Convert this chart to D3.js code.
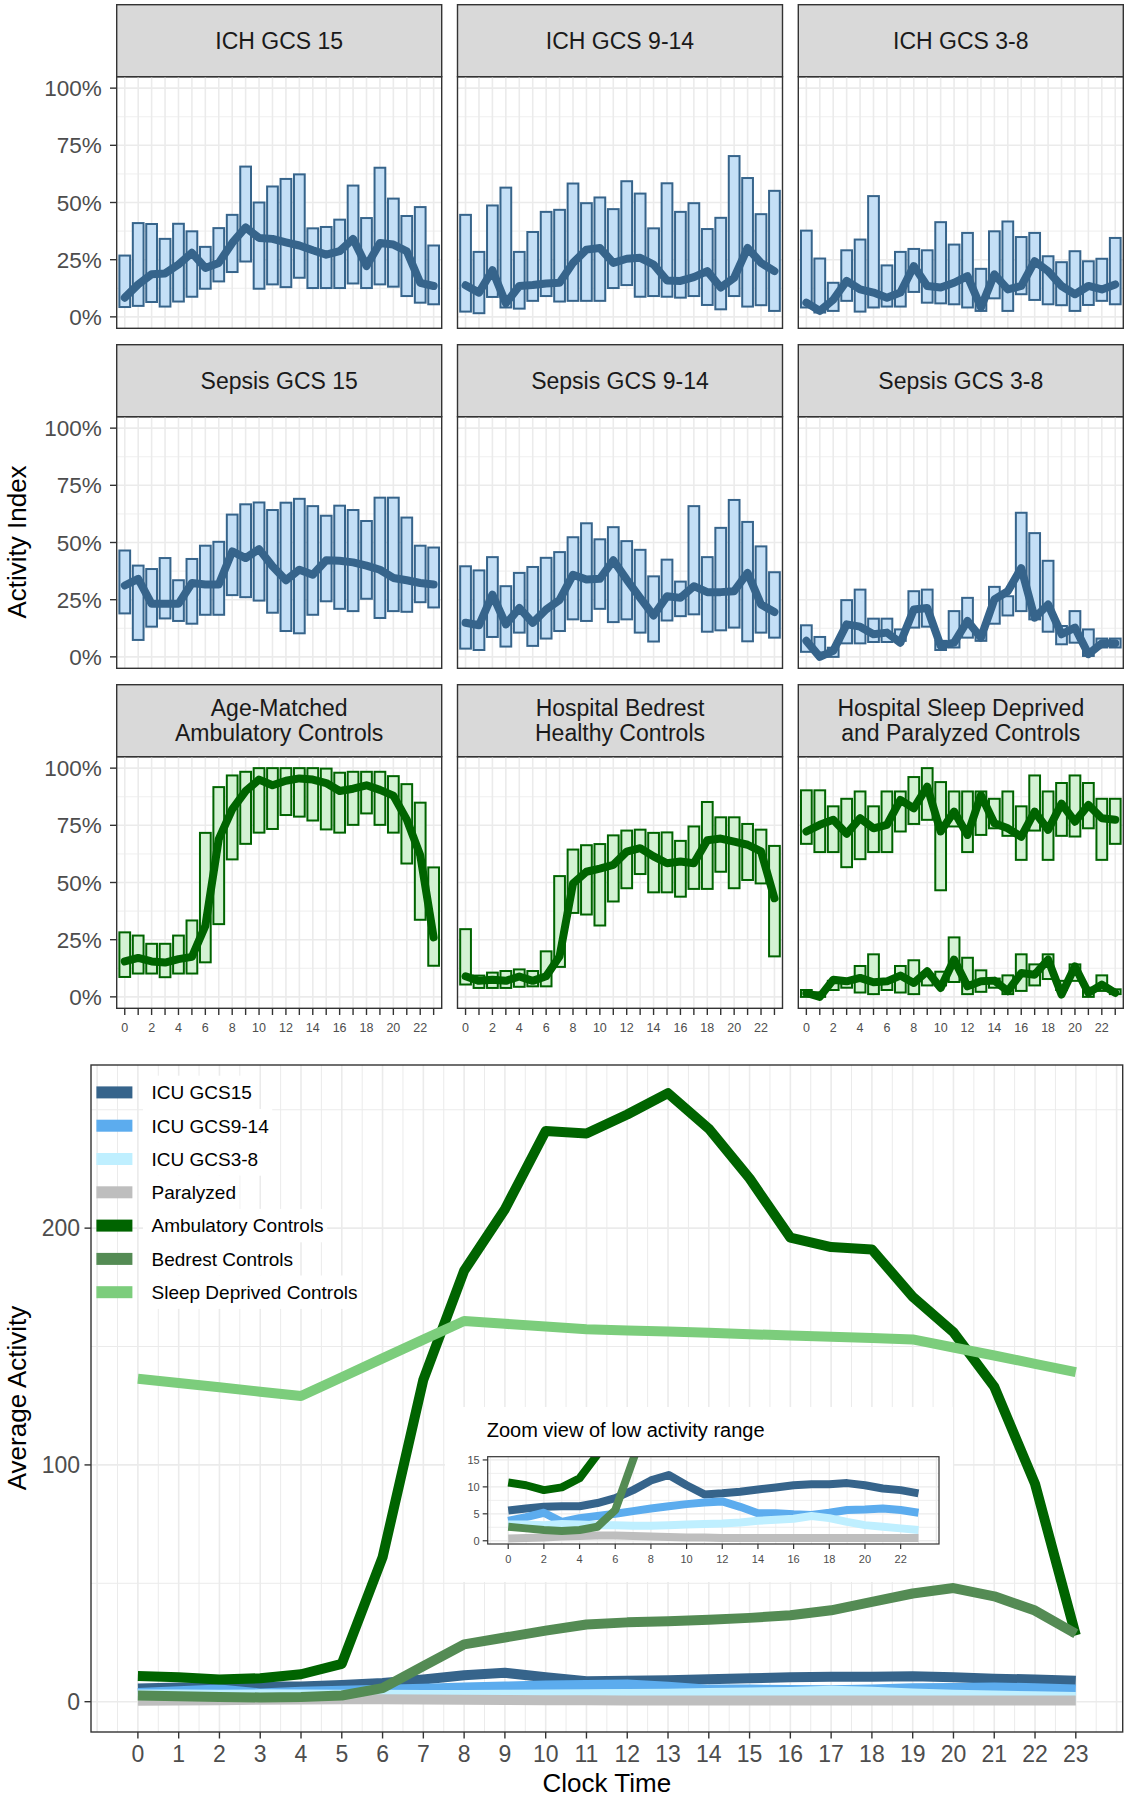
<!DOCTYPE html>
<html><head><meta charset="utf-8">
<script src="https://cdnjs.cloudflare.com/ajax/libs/d3/7.8.5/d3.min.js"></script>
<style>body{margin:0;background:#fff}svg{display:block}text{font-family:"Liberation Sans",Arial,Helvetica,sans-serif}</style>
</head><body><svg id="c" width="1128" height="1800"></svg>
<script>
// ---------------- DATA ----------------
const hours = [0,1,2,3,4,5,6,7,8,9,10,11,12,13,14,15,16,17,18,19,20,21,22,23];
const facetXTickLabels = ["0","2","4","6","8","10","12","14","16","18","20","22"];
const facetYTicks = [0,0.25,0.5,0.75,1];
const facetYTickLabels = ["0%","25%","50%","75%","100%"];
const facetTitles = [["ICH GCS 15"],["ICH GCS 9-14"],["ICH GCS 3-8"],["Sepsis GCS 15"],["Sepsis GCS 9-14"],["Sepsis GCS 3-8"],
  ["Age-Matched","Ambulatory Controls"],["Hospital Bedrest","Healthy Controls"],["Hospital Sleep Deprived","and Paralyzed Controls"]];

const ichGcs15Low = [0.043,0.048,0.065,0.045,0.067,0.088,0.123,0.155,0.196,0.242,0.123,0.142,0.130,0.171,0.126,0.126,0.126,0.146,0.126,0.142,0.132,0.091,0.062,0.055];
const ichGcs15High = [0.268,0.410,0.406,0.341,0.407,0.374,0.306,0.388,0.446,0.657,0.500,0.570,0.603,0.623,0.387,0.393,0.425,0.574,0.432,0.652,0.517,0.441,0.480,0.312];
const ichGcs15Median = [0.084,0.142,0.186,0.190,0.229,0.280,0.214,0.236,0.323,0.391,0.345,0.341,0.326,0.312,0.291,0.272,0.287,0.341,0.222,0.323,0.316,0.287,0.149,0.135];

const ichGcs914Low = [0.023,0.016,0.087,0.041,0.036,0.070,0.091,0.067,0.070,0.070,0.070,0.126,0.139,0.088,0.091,0.088,0.084,0.091,0.052,0.033,0.091,0.045,0.051,0.026];
const ichGcs914High = [0.446,0.284,0.487,0.565,0.284,0.371,0.459,0.468,0.583,0.497,0.522,0.471,0.593,0.539,0.387,0.584,0.459,0.497,0.384,0.433,0.703,0.607,0.449,0.551];
const ichGcs914Median = [0.138,0.106,0.204,0.059,0.135,0.139,0.146,0.149,0.236,0.294,0.301,0.236,0.254,0.258,0.229,0.159,0.157,0.174,0.200,0.128,0.171,0.301,0.236,0.200];

const ichGcs38Low = [0.041,0.019,0.026,0.070,0.023,0.041,0.045,0.045,0.109,0.062,0.059,0.055,0.041,0.026,0.081,0.026,0.099,0.074,0.055,0.051,0.026,0.052,0.070,0.055];
const ichGcs38High = [0.377,0.255,0.149,0.291,0.338,0.528,0.225,0.284,0.297,0.291,0.414,0.316,0.367,0.210,0.374,0.417,0.349,0.367,0.265,0.239,0.287,0.243,0.254,0.345];
const ichGcs38Median = [0.062,0.026,0.075,0.157,0.120,0.106,0.084,0.106,0.222,0.135,0.128,0.149,0.178,0.041,0.186,0.120,0.135,0.243,0.200,0.135,0.099,0.135,0.120,0.142];

const sepsis15Low = [0.190,0.074,0.132,0.168,0.157,0.145,0.184,0.184,0.270,0.261,0.246,0.193,0.113,0.103,0.184,0.243,0.210,0.200,0.254,0.170,0.200,0.197,0.239,0.216];
const sepsis15High = [0.465,0.399,0.384,0.432,0.335,0.428,0.486,0.503,0.622,0.667,0.675,0.642,0.674,0.691,0.659,0.617,0.661,0.642,0.594,0.696,0.696,0.609,0.486,0.478];
const sepsis15Median = [0.312,0.341,0.232,0.232,0.232,0.323,0.316,0.316,0.461,0.432,0.471,0.396,0.335,0.381,0.359,0.422,0.420,0.413,0.399,0.381,0.345,0.335,0.323,0.316];

const sepsis914Low = [0.036,0.030,0.087,0.045,0.106,0.048,0.080,0.113,0.164,0.157,0.210,0.152,0.164,0.106,0.067,0.159,0.178,0.186,0.110,0.116,0.128,0.068,0.106,0.084];
const sepsis914High = [0.396,0.378,0.436,0.309,0.367,0.393,0.433,0.458,0.523,0.584,0.514,0.567,0.506,0.468,0.352,0.425,0.329,0.659,0.436,0.564,0.686,0.590,0.483,0.370];
const sepsis914Median = [0.149,0.138,0.272,0.142,0.214,0.149,0.207,0.249,0.359,0.338,0.341,0.422,0.338,0.258,0.181,0.265,0.258,0.309,0.283,0.283,0.287,0.367,0.229,0.196];

const sepsis38Low = [0.022,0.019,0.000,0.059,0.059,0.065,0.065,0.070,0.128,0.132,0.030,0.041,0.084,0.070,0.145,0.181,0.200,0.164,0.110,0.055,0.062,0.004,0.041,0.041];
const sepsis38High = [0.138,0.087,0.040,0.248,0.294,0.167,0.167,0.120,0.287,0.294,0.070,0.200,0.258,0.106,0.306,0.265,0.630,0.541,0.420,0.135,0.200,0.120,0.080,0.080];
const sepsis38Median = [0.070,0.000,0.026,0.142,0.132,0.099,0.106,0.062,0.207,0.214,0.048,0.062,0.157,0.084,0.251,0.287,0.388,0.171,0.229,0.099,0.128,0.012,0.059,0.059];

const ambulatoryLow = [0.087,0.102,0.102,0.086,0.102,0.102,0.151,0.318,0.601,0.669,0.718,0.734,0.795,0.788,0.771,0.732,0.718,0.752,0.802,0.752,0.718,0.583,0.337,0.136];
const ambulatoryHigh = [0.282,0.268,0.232,0.232,0.268,0.334,0.717,0.917,0.968,0.984,1.000,1.000,1.000,1.000,1.000,0.998,0.980,0.984,0.984,0.984,0.965,0.930,0.849,0.566];
const ambulatoryMedian = [0.155,0.170,0.155,0.150,0.165,0.175,0.310,0.690,0.820,0.900,0.950,0.925,0.945,0.955,0.950,0.935,0.900,0.910,0.925,0.905,0.880,0.775,0.620,0.260];

const bedrestLow = [0.054,0.039,0.039,0.039,0.044,0.046,0.046,0.131,0.367,0.360,0.312,0.417,0.475,0.537,0.457,0.457,0.438,0.472,0.472,0.547,0.475,0.511,0.496,0.177];
const bedrestHigh = [0.296,0.093,0.106,0.113,0.120,0.113,0.199,0.528,0.644,0.663,0.668,0.706,0.727,0.731,0.717,0.719,0.682,0.745,0.852,0.785,0.785,0.756,0.731,0.660];
const bedrestMedian = [0.090,0.070,0.075,0.070,0.089,0.070,0.090,0.177,0.496,0.547,0.561,0.577,0.635,0.650,0.614,0.584,0.592,0.584,0.685,0.692,0.679,0.665,0.636,0.431];

const sleepDeprivedLow = [0.669,0.633,0.633,0.567,0.602,0.633,0.633,0.723,0.756,0.774,0.466,0.745,0.633,0.708,0.737,0.704,0.599,0.727,0.599,0.704,0.701,0.737,0.599,0.669];
const sleepDeprivedHigh = [0.903,0.903,0.833,0.866,0.898,0.833,0.898,0.898,0.961,1.000,0.939,0.898,0.898,0.898,0.866,0.898,0.833,0.968,0.898,0.935,0.968,0.935,0.866,0.866];
const sleepDeprivedMedian = [0.723,0.752,0.774,0.713,0.781,0.737,0.752,0.861,0.824,0.919,0.723,0.810,0.708,0.882,0.759,0.737,0.700,0.810,0.730,0.845,0.766,0.839,0.781,0.774];

const paralyzedLow = [0.000,0.000,0.030,0.040,0.019,0.012,0.030,0.019,0.012,0.050,0.050,0.065,0.012,0.022,0.040,0.012,0.026,0.050,0.078,0.030,0.070,0.000,0.026,0.012];
const paralyzedHigh = [0.030,0.020,0.070,0.070,0.135,0.186,0.070,0.135,0.160,0.100,0.110,0.260,0.171,0.116,0.080,0.094,0.186,0.142,0.186,0.070,0.142,0.040,0.094,0.033];
const paralyzedMedian = [0.017,0.000,0.075,0.068,0.083,0.064,0.068,0.093,0.061,0.112,0.039,0.163,0.046,0.068,0.071,0.025,0.104,0.097,0.163,0.010,0.133,0.017,0.054,0.017];

// bottom chart: average activity per clock hour
const avgSeriesNames = ["ICU GCS15","ICU GCS9-14","ICU GCS3-8","Paralyzed","Ambulatory Controls","Bedrest Controls","Sleep Deprived Controls"];
const icuGcs15Avg = [5.6,6.0,6.3,6.4,6.4,7.0,7.9,9.4,11.2,12.2,10.3,8.6,8.8,9.1,9.5,9.9,10.3,10.5,10.5,10.7,10.3,9.7,9.4,8.8];
const icuGcs914Avg = [3.7,4.4,5.2,3.5,4.2,4.6,5.0,5.5,6.0,6.4,6.8,7.1,7.3,6.3,5.1,5.1,4.9,4.8,5.2,5.7,5.8,6.0,5.7,5.2];
const icuGcs38Avg = [3.0,3.0,2.9,3.1,3.0,2.9,2.9,2.8,2.8,2.9,3.0,3.1,3.2,3.4,3.7,3.9,4.1,4.6,4.2,3.5,2.9,2.6,2.3,2.0];
const paralyzedAvg = [0.4,0.5,0.6,0.8,0.9,1.0,1.0,0.9,0.8,0.7,0.6,0.6,0.5,0.5,0.5,0.5,0.5,0.5,0.5,0.5,0.5,0.5,0.5,0.5];
const ambulatoryAvg = [10.8,10.3,9.4,9.9,11.6,16.0,61,136,182,208,241,240,248,257,242,221,196,192,191,171,156,133,92,28];
const bedrestAvg = [2.6,2.3,2.0,1.8,2.0,2.6,5.7,15,24.2,27.1,30,32.6,33.5,34,34.6,35.4,36.5,38.6,42.2,45.7,48,44.5,38.5,28.7];
const sleepDeprivedAvg = [136.4,134.6,132.8,130.9,129.1,137.0,145.0,152.9,160.8,159.6,158.5,157.3,156.8,156.3,155.8,155.2,154.7,154.1,153.6,153.0,149.6,146.2,142.7,139.2];
const avgYTicks = [0,100,200];
const insetXTicks = [0,2,4,6,8,10,12,14,16,18,20,22];
const insetYTicks = [0,5,10,15];

// ---------------- STYLE ----------------
const GRID="#EBEBEB", BORDER="#333333", AXTXT="#4D4D4D";
const BLUE={fill:"#C4DFF6",stroke:"#36648B",line:"#36648B"};
const GREEN={fill:"#D3F2D3",stroke:"#006400",line:"#006400"};
const avgColors=["#36648B","#5CACEE","#BFEFFF","#BEBEBE","#006400","#548B54","#7CCD7C"];

const svg=d3.select("#c");
const defs=svg.append("defs");

// ---------------- FACETS ----------------
const facets=[
 {title:facetTitles[0],theme:BLUE,series:[[ichGcs15Low,ichGcs15High,ichGcs15Median]]},
 {title:facetTitles[1],theme:BLUE,series:[[ichGcs914Low,ichGcs914High,ichGcs914Median]]},
 {title:facetTitles[2],theme:BLUE,series:[[ichGcs38Low,ichGcs38High,ichGcs38Median]]},
 {title:facetTitles[3],theme:BLUE,series:[[sepsis15Low,sepsis15High,sepsis15Median]]},
 {title:facetTitles[4],theme:BLUE,series:[[sepsis914Low,sepsis914High,sepsis914Median]]},
 {title:facetTitles[5],theme:BLUE,series:[[sepsis38Low,sepsis38High,sepsis38Median]]},
 {title:facetTitles[6],theme:GREEN,series:[[ambulatoryLow,ambulatoryHigh,ambulatoryMedian]]},
 {title:facetTitles[7],theme:GREEN,series:[[bedrestLow,bedrestHigh,bedrestMedian]]},
 {title:facetTitles[8],theme:GREEN,series:[[sleepDeprivedLow,sleepDeprivedHigh,sleepDeprivedMedian],[paralyzedLow,paralyzedHigh,paralyzedMedian]]}
];
const colX=[116.7,457.5,798.3], PW=325, rowY=[4.7,344.7,684.7], SH=72, PH=251.6;

facets.forEach((f,i)=>{
  const r=Math.floor(i/3), c=i%3;
  const left=colX[c], top=rowY[r]+SH, bottom=top+PH;
  const x=d3.scalePoint().domain(hours).range([left,left+PW]).padding(0.6);
  const step=x.step();
  const y=d3.scaleLinear().domain([-0.05,1.05]).range([bottom,top]);
  const g=svg.append("g");
  // strip
  g.append("rect").attr("x",left).attr("y",rowY[r]).attr("width",PW).attr("height",SH)
    .attr("fill","#D9D9D9").attr("stroke",BORDER).attr("stroke-width",1.4);
  const cy=rowY[r]+SH/2, n=f.title.length;
  f.title.forEach((t,k)=>g.append("text").attr("x",left+PW/2).attr("y",cy+(k-(n-1)/2)*25+8)
    .attr("text-anchor","middle").attr("font-size",23).attr("fill","#1A1A1A").text(t));
  // grid
  const minor=[0.125,0.375,0.625,0.875];
  g.selectAll(null).data(minor).join("line").attr("x1",left).attr("x2",left+PW)
    .attr("y1",d=>y(d)).attr("y2",d=>y(d)).attr("stroke",GRID).attr("stroke-width",0.8);
  g.selectAll(null).data(facetYTicks).join("line").attr("x1",left).attr("x2",left+PW)
    .attr("y1",d=>y(d)).attr("y2",d=>y(d)).attr("stroke",GRID).attr("stroke-width",1.6);
  g.selectAll(null).data(hours).join("line").attr("y1",top).attr("y2",bottom)
    .attr("x1",d=>x(d)).attr("x2",d=>x(d)).attr("stroke",GRID).attr("stroke-width",1.6);
  // clip
  const cid="clip"+i;
  defs.append("clipPath").attr("id",cid).append("rect").attr("x",left).attr("y",top).attr("width",PW).attr("height",PH);
  const inner=g.append("g").attr("clip-path",`url(#${cid})`);
  f.series.forEach(([lo,hi,med])=>{
    inner.selectAll(null).data(hours).join("rect")
      .attr("x",d=>x(d)-0.4*step).attr("width",0.8*step)
      .attr("y",(d,j)=>y(hi[j])).attr("height",(d,j)=>Math.max(0.5,y(lo[j])-y(hi[j])))
      .attr("fill",f.theme.fill).attr("stroke",f.theme.stroke).attr("stroke-width",2);
  });
  f.series.forEach(([lo,hi,med])=>{
    inner.append("path").datum(hours)
      .attr("d",d3.line().x(d=>x(d)).y((d,j)=>y(med[j])))
      .attr("fill","none").attr("stroke",f.theme.line).attr("stroke-width",8)
      .attr("stroke-linejoin","round").attr("stroke-linecap","round");
  });
  // border
  g.append("rect").attr("x",left).attr("y",top).attr("width",PW).attr("height",PH)
    .attr("fill","none").attr("stroke",BORDER).attr("stroke-width",1.4);
  // y axis
  if(c===0){
    g.selectAll(null).data(facetYTicks).join("line").attr("x1",left-6.7).attr("x2",left)
      .attr("y1",d=>y(d)).attr("y2",d=>y(d)).attr("stroke",BORDER).attr("stroke-width",1.4);
    g.selectAll(null).data(facetYTicks).join("text").attr("x",left-15).attr("y",d=>y(d)+8)
      .attr("text-anchor","end").attr("font-size",22.5).attr("fill",AXTXT).text((d,j)=>facetYTickLabels[j]);
  }
  // x axis
  if(r===2){
    g.selectAll(null).data(hours).join("line").attr("y1",bottom).attr("y2",bottom+6.7)
      .attr("x1",d=>x(d)).attr("x2",d=>x(d)).attr("stroke",BORDER).attr("stroke-width",1.4);
    g.selectAll(null).data(hours.filter(h=>h%2===0)).join("text").attr("x",d=>x(d)).attr("y",bottom+23.5)
      .attr("text-anchor","middle").attr("font-size",12.5).attr("fill",AXTXT).text((d,j)=>facetXTickLabels[j]);
  }
});
svg.append("text").attr("transform","translate(26,542) rotate(-90)").attr("text-anchor","middle")
  .attr("font-size",26).attr("fill","#000").text("Activity Index");

// ---------------- BOTTOM CHART ----------------
const avgSeries=[icuGcs15Avg,icuGcs914Avg,icuGcs38Avg,paralyzedAvg,ambulatoryAvg,bedrestAvg,sleepDeprivedAvg];
const BL=91, BR=1122.7, BT=1065, BB=1732;
const bx=d3.scaleLinear().domain([-1.15,24.15]).range([BL,BR]);
const by=d3.scaleLinear().domain([-12.8,268.9]).range([BB,BT]);
const bg=svg.append("g");
const halfSteps=d3.range(-2,49).map(k=>k/2);
bg.selectAll(null).data(halfSteps.filter(v=>v%1!==0)).join("line").attr("y1",BT).attr("y2",BB)
  .attr("x1",d=>bx(d)).attr("x2",d=>bx(d)).attr("stroke",GRID).attr("stroke-width",1.0);
bg.selectAll(null).data(halfSteps.filter(v=>v%1===0)).join("line").attr("y1",BT).attr("y2",BB)
  .attr("x1",d=>bx(d)).attr("x2",d=>bx(d)).attr("stroke",GRID).attr("stroke-width",1.6);
bg.selectAll(null).data([50,150,250]).join("line").attr("x1",BL).attr("x2",BR)
  .attr("y1",d=>by(d)).attr("y2",d=>by(d)).attr("stroke",GRID).attr("stroke-width",1.0);
bg.selectAll(null).data(avgYTicks).join("line").attr("x1",BL).attr("x2",BR)
  .attr("y1",d=>by(d)).attr("y2",d=>by(d)).attr("stroke",GRID).attr("stroke-width",1.6);
defs.append("clipPath").attr("id","clipB").append("rect").attr("x",BL).attr("y",BT).attr("width",BR-BL).attr("height",BB-BT);
const bl=bg.append("g").attr("clip-path","url(#clipB)");
avgSeries.forEach((s,k)=>{
  bl.append("path").datum(hours).attr("d",d3.line().x(d=>bx(d)).y((d,j)=>by(s[j])))
    .attr("fill","none").attr("stroke",avgColors[k]).attr("stroke-width",10).attr("stroke-linejoin","round");
});
// legend
const lg=bg.append("g");
avgSeriesNames.forEach((nm,k)=>{
  const cy=1092.4+k*33.3;
  const t=lg.append("text").attr("x",151.5).attr("y",cy+6.8).attr("font-size",19).attr("fill","#000").text(nm);
  const w=t.node().getComputedTextLength();
  lg.insert("rect","text").attr("x",143).attr("y",cy-16.7).attr("width",w+12).attr("height",33.4).attr("fill","#fff");
  lg.append("rect").attr("x",96.4).attr("y",cy-6).attr("width",36).attr("height",12).attr("fill",avgColors[k]);
});
// inset
const IL=487.7, IR=939, IT=1456.7, IB=1544;
const ix=d3.scaleLinear().domain([-1.15,24.15]).range([IL,IR]);
const iy=d3.scaleLinear().domain([-0.6,15.6]).range([IB,IT]);
const ig=bg.append("g");
ig.append("rect").attr("x",445).attr("y",1407).attr("width",508).attr("height",175).attr("fill","#fff");
ig.append("text").attr("x",486.7).attr("y",1436.7).attr("font-size",20).attr("fill","#000").text("Zoom view of low activity range");
ig.selectAll(null).data(d3.range(-1,25)).join("line").attr("y1",IT).attr("y2",IB)
  .attr("x1",d=>ix(d)).attr("x2",d=>ix(d)).attr("stroke",GRID).attr("stroke-width",d=>d%2===0?1.3:0.8);
ig.selectAll(null).data([2.5,7.5,12.5]).join("line").attr("x1",IL).attr("x2",IR)
  .attr("y1",d=>iy(d)).attr("y2",d=>iy(d)).attr("stroke",GRID).attr("stroke-width",0.8);
ig.selectAll(null).data(insetYTicks).join("line").attr("x1",IL).attr("x2",IR)
  .attr("y1",d=>iy(d)).attr("y2",d=>iy(d)).attr("stroke",GRID).attr("stroke-width",1.3);
defs.append("clipPath").attr("id","clipI").append("rect").attr("x",IL).attr("y",IT).attr("width",IR-IL).attr("height",IB-IT);
const il=ig.append("g").attr("clip-path","url(#clipI)");
avgSeries.forEach((s,k)=>{
  il.append("path").datum(hours).attr("d",d3.line().x(d=>ix(d)).y((d,j)=>iy(s[j])))
    .attr("fill","none").attr("stroke",avgColors[k]).attr("stroke-width",8).attr("stroke-linejoin","round");
});
ig.append("rect").attr("x",IL).attr("y",IT).attr("width",IR-IL).attr("height",IB-IT).attr("fill","none").attr("stroke",BORDER).attr("stroke-width",1.2);
ig.selectAll(null).data(insetXTicks).join("line").attr("y1",IB).attr("y2",IB+5).attr("x1",d=>ix(d)).attr("x2",d=>ix(d)).attr("stroke",BORDER).attr("stroke-width",1.2);
ig.selectAll(null).data(insetXTicks).join("text").attr("x",d=>ix(d)).attr("y",IB+19).attr("text-anchor","middle").attr("font-size",11).attr("fill",AXTXT).text(d=>d);
ig.selectAll(null).data(insetYTicks).join("line").attr("x1",IL-5).attr("x2",IL).attr("y1",d=>iy(d)).attr("y2",d=>iy(d)).attr("stroke",BORDER).attr("stroke-width",1.2);
ig.selectAll(null).data(insetYTicks).join("text").attr("x",IL-8).attr("y",d=>iy(d)+4).attr("text-anchor","end").attr("font-size",11).attr("fill",AXTXT).text(d=>d);
// bottom axes & border
bg.append("rect").attr("x",BL).attr("y",BT).attr("width",BR-BL).attr("height",BB-BT).attr("fill","none").attr("stroke",BORDER).attr("stroke-width",1.4);
bg.selectAll(null).data(hours).join("line").attr("y1",BB).attr("y2",BB+6.5).attr("x1",d=>bx(d)).attr("x2",d=>bx(d)).attr("stroke",BORDER).attr("stroke-width",1.4);
bg.selectAll(null).data(hours).join("text").attr("x",d=>bx(d)).attr("y",BB+30).attr("text-anchor","middle").attr("font-size",23).attr("fill",AXTXT).text(d=>d);
bg.selectAll(null).data(avgYTicks).join("line").attr("x1",BL-6.5).attr("x2",BL).attr("y1",d=>by(d)).attr("y2",d=>by(d)).attr("stroke",BORDER).attr("stroke-width",1.4);
bg.selectAll(null).data(avgYTicks).join("text").attr("x",BL-11).attr("y",d=>by(d)+8.3).attr("text-anchor","end").attr("font-size",23).attr("fill",AXTXT).text(d=>d);
svg.append("text").attr("x",(BL+BR)/2).attr("y",1792).attr("text-anchor","middle").attr("font-size",26).attr("fill","#000").text("Clock Time");
svg.append("text").attr("transform","translate(26,1398) rotate(-90)").attr("text-anchor","middle").attr("font-size",26).attr("fill","#000").text("Average Activity");
</script></body></html>
